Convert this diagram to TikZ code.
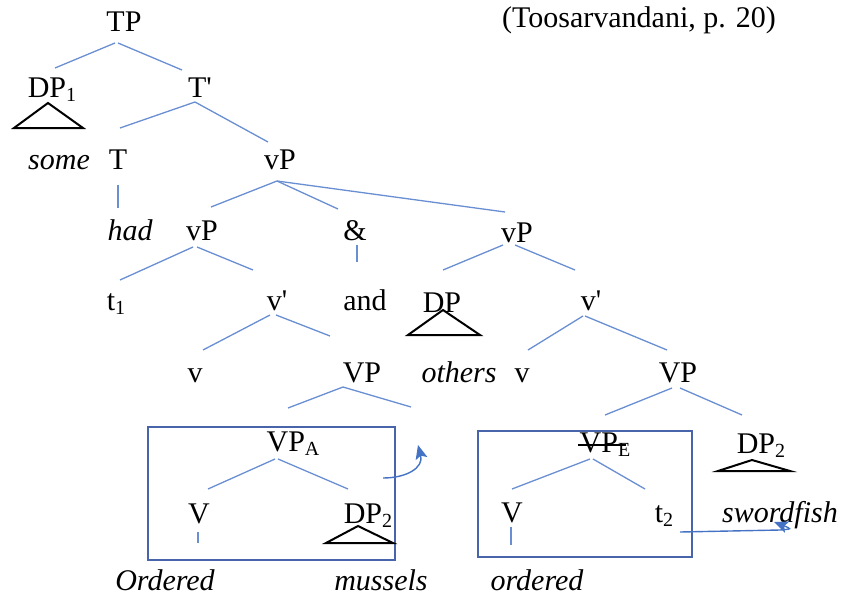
\documentclass[tikz,border=0pt]{standalone}
\usepackage{fontspec}
\setmainfont{Liberation Serif}
\usetikzlibrary{arrows.meta}
\definecolor{edgeblue}{RGB}{105,142,210}
\definecolor{boxblue}{RGB}{72,100,170}
\definecolor{arrowblue}{RGB}{68,114,196}
\newcommand{\lowidx}[1]{\raisebox{-4pt}{\fontsize{20}{20}\selectfont #1}}
\begin{document}
\begin{tikzpicture}[x=1pt,y=-1pt,
  lbl/.style={anchor=base,inner sep=0pt,font=\fontsize{30}{36}\selectfont},
  it/.style={lbl,font=\fontsize{30}{36}\selectfont\itshape},
  edge/.style={draw=edgeblue,line width=1.3pt},
  tri/.style={draw=black,line width=2pt,line join=miter},
  frame/.style={draw=boxblue,line width=2.2pt,inner sep=0pt},
  move/.style={draw=arrowblue,line width=1.4pt,-{Stealth[length=14pt,width=12pt,inset=3pt]}}]
\useasboundingbox (0,0) rectangle (845,599);

% labels
\node[lbl] (TP) at (124,32) {TP};
\node[lbl] (cite) at (639,28) {(Toosarvandani, p. 20)};
\node[lbl] (DP1) at (52,98) {DP\lowidx{1}};
\node[lbl] (Tbar) at (200,98) {T\textquotesingle};
\node[it]  (some) at (59,169) {some};
\node[lbl] (T) at (118,169) {T};
\node[lbl] (vP1) at (280,169) {vP};
\node[it]  (had) at (130,240) {had};
\node[lbl] (vP2) at (202,240) {vP};
\node[lbl] (amp) at (355,240) {\&};
\node[lbl] (vP3) at (517,242) {vP};
\node[lbl] (t1) at (116,310) {t\lowidx{1}};
\node[lbl] (vbarA) at (277,310) {v\textquotesingle};
\node[lbl] (and) at (365,310) {and};
\node[lbl] (DP) at (442,312) {DP};
\node[lbl] (vbarB) at (591,310) {v\textquotesingle};
\node[lbl] (vA) at (195,382) {v};
\node[lbl] (VPa) at (362,382) {VP};
\node[it]  (others) at (459,382) {others};
\node[lbl] (vB) at (522,382) {v};
\node[lbl] (VPb) at (678,382) {VP};
\node[lbl] (VPA) at (293,451) {VP\lowidx{A}};
\node[lbl] (VA) at (199,523) {V};
\node[lbl] (DPtwoA) at (368,523) {DP\lowidx{2}};
\node[it]  (Ordered) at (165,590) {Ordered};
\node[it]  (mussels) at (381,590) {mussels};
\node[lbl] (VPE) at (605,452) {VP\lowidx{E}};
\node[lbl] (VB) at (512,522) {V};
\node[lbl] (t2) at (664,522) {t\lowidx{2}};
\node[lbl] (DPtwoB) at (761,453) {DP\lowidx{2}};
\node[it]  (swordfish) at (780,522) {swordfish};
\node[it]  (ordered) at (537,590) {ordered};

% boxes round the two VPs
\node[frame,minimum width=247pt,minimum height=133pt] (boxA) at (271.5,493.5) {};
\node[frame,minimum width=214pt,minimum height=126pt] (boxE) at (585,494) {};

% branches
\draw[edge] ([shift={(-9,11)}]TP.base) -- ([shift={(3,-30)}]DP1.base);
\draw[edge] ([shift={(-6,11)}]TP.base) -- ([shift={(-18,-28)}]Tbar.base);
\draw[edge] ([shift={(-5,4)}]Tbar.base) -- ([shift={(2,-41)}]T.base);
\draw[edge] ([shift={(-5,4)}]Tbar.base) -- ([shift={(-12,-27)}]vP1.base);
\draw[edge] ([shift={(0,16)}]T.base) -- ([shift={(-12,-32)}]had.base);
\draw[edge] ([shift={(-3,12)}]vP1.base) -- ([shift={(9,-33)}]vP2.base);
\draw[edge] ([shift={(-3,12)}]vP1.base) -- ([shift={(-17,-31)}]amp.base);
\draw[edge] ([shift={(-3,12)}]vP1.base) -- ([shift={(-12,-30)}]vP3.base);
\draw[edge] ([shift={(-9,7)}]vP2.base) -- ([shift={(4,-30)}]t1.base);
\draw[edge] ([shift={(-5,7)}]vP2.base) -- ([shift={(-24,-40)}]vbarA.base);
\draw[edge] ([shift={(2,5)}]amp.base) -- ([shift={(-8,-48)}]and.base);
\draw[edge] ([shift={(-14,3)}]vP3.base) -- ([shift={(1,-42)}]DP.base);
\draw[edge] ([shift={(-2,3)}]vP3.base) -- ([shift={(-16,-40)}]vbarB.base);
\draw[edge] ([shift={(-7,5)}]vbarA.base) -- ([shift={(8,-32)}]vA.base);
\draw[edge] ([shift={(-1,5)}]vbarA.base) -- ([shift={(-32,-46)}]VPa.base);
\draw[edge] ([shift={(-8,6)}]vbarB.base) -- ([shift={(6,-32)}]vB.base);
\draw[edge] ([shift={(-6,6)}]vbarB.base) -- ([shift={(-11,-32)}]VPb.base);
\draw[edge] ([shift={(-19,5)}]VPa.base) -- ([shift={(-5,-43)}]VPA.base);
\coordinate (VPaR) at (411,407);
\draw[edge] ([shift={(-19,5)}]VPa.base) -- (VPaR);
\draw[edge] ([shift={(-6,6)}]VPb.base) -- ([shift={(0,-37)}]VPE.base);
\draw[edge] ([shift={(2,6)}]VPb.base) -- ([shift={(-19,-38)}]DPtwoB.base);
\draw[edge] ([shift={(-18,8)}]VPA.base) -- ([shift={(9,-34)}]VA.base);
\draw[edge] ([shift={(-15,8)}]VPA.base) -- ([shift={(-20,-34)}]DPtwoA.base);
\draw[edge] ([shift={(-1,9)}]VA.base) -- ([shift={(33,-47)}]Ordered.base);
\draw[edge] ([shift={(-15,7)}]VPE.base) -- ([shift={(0,-33)}]VB.base);
\draw[edge] ([shift={(-12,7)}]VPE.base) -- ([shift={(-19,-33)}]t2.base);
\draw[edge] ([shift={(-1,5)}]VB.base) -- ([shift={(-26,-45)}]ordered.base);

% strike through the elided VP
\draw[black,line width=1.2pt] ([shift={(-27,-7)}]VPE.base) -- ([shift={(21,-7)}]VPE.base);

% triangles under the DPs
\draw[tri] ([shift={(-4,5)}]DP1.base) -- ([shift={(-38,30)}]DP1.base) -- ([shift={(31,30)}]DP1.base) -- cycle;
\draw[tri] ([shift={(1,-2)}]DP.base) -- ([shift={(-34,23)}]DP.base) -- ([shift={(38,23)}]DP.base) -- cycle;
\draw[tri] ([shift={(-10,3)}]DPtwoA.base) -- ([shift={(-42,20)}]DPtwoA.base) -- ([shift={(25,20)}]DPtwoA.base) -- cycle;
\draw[tri] ([shift={(-9,7)}]DPtwoB.base) -- ([shift={(-43,18)}]DPtwoB.base) -- ([shift={(29,18)}]DPtwoB.base) -- cycle;

% movement arrows
\coordinate (antTip) at (418,445);
\draw[move] ([shift={(-13,-15.5)}]boxA.east) .. controls (406,478) and (424,468) .. (antTip);
\coordinate (hook) at (780,530);
\draw[move] ([shift={(16,10)}]t2.base) -- (hook) .. controls (792,529) .. ([shift={(-6,0)}]swordfish.base);
\end{tikzpicture}
\end{document}
